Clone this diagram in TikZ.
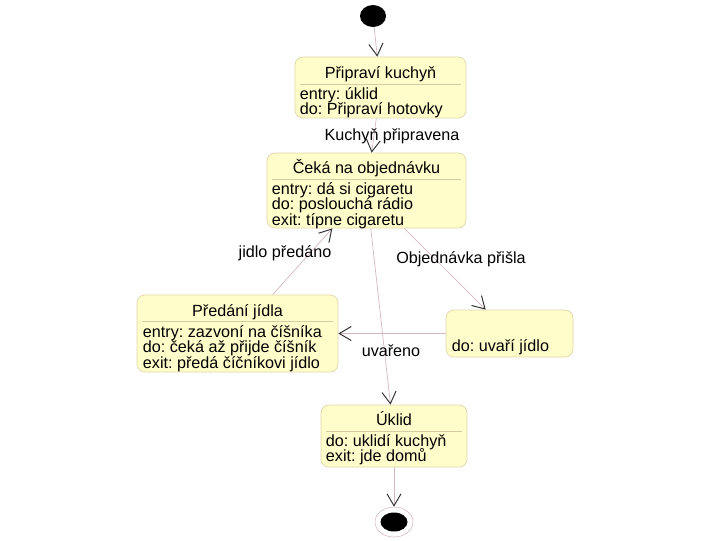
\documentclass[tikz,border=0pt]{standalone}
\usepackage{fontspec}
\setmainfont{Liberation Sans}
\usepackage{xcolor}
\usetikzlibrary{positioning, arrows.meta, calc, shapes.geometric}

\definecolor{stfill}{HTML}{FFFDCA}
\definecolor{stdraw}{HTML}{E2D6A8}
\definecolor{sepline}{HTML}{D6CBA2}
\definecolor{trline}{HTML}{D4B8C0}

\begin{document}
\frenchspacing
\begin{tikzpicture}[
  x=0.025cm, y=-0.025cm,
  font=\fontsize{11.5}{13}\selectfont,
  st/.style={draw=stdraw, fill=stfill, rounded corners=5.5pt,
             line width=0.5pt, inner sep=0pt},
  ttl/.style={anchor=base, inner sep=0pt},
  body/.style={anchor=base west, inner sep=0pt},
  sepl/.style={draw=sepline, line width=0.4pt},
  tr/.style={draw=trline, line width=0.5pt,
             -{Straight Barb[length=8.5pt, width=10pt, color=black!80, line width=0.7pt]}},
  lab/.style={inner sep=1pt},
  dot/.style={ellipse, fill=black, inner sep=0pt},
]
%% one unit is one pixel of the 720 x 540 page
\def\PX{0.025cm}
\useasboundingbox (0,0) rectangle (720,540);

%% ---- initial and final pseudo states ----
\node[dot, minimum width=26*\PX, minimum height=22*\PX] (init) at (373,16) {};
\node[ellipse, draw=trline, fill=white, inner sep=0pt,
      minimum width=38*\PX, minimum height=30*\PX] (fin) at (394,522) {};
\node[dot, minimum width=27*\PX, minimum height=19*\PX] (fin-in) at (394,522) {};

%% ---- Připraví kuchyň ----
\node[st, minimum width=171*\PX, minimum height=61*\PX] (prip) at (380.5,87.5) {};
\node[ttl] (prip-t) at ($(prip.north)+(0,22)$) {Připraví kuchyň};
\draw[sepl] ($(prip.north west)+(5,28)$) -- ($(prip.north east)+(-5,28)$);
\foreach \txt [count=\i] in {entry: úklid, do: Připraví hotovky}
  \node[body] (prip-\i) at ($(prip.north west)+(5,27+15.5*\i)$) {\txt};

%% ---- Čeká na objednávku ----
\node[st, minimum width=199*\PX, minimum height=75*\PX] (ceka) at (366.5,190.5) {};
\node[ttl] (ceka-t) at ($(ceka.north)+(0,21)$) {Čeká na objednávku};
\draw[sepl] ($(ceka.north west)+(5,27)$) -- ($(ceka.north east)+(-5,27)$);
\foreach \txt [count=\i] in {entry: dá si cigaretu, do: poslouchá rádio, exit: típne cigaretu}
  \node[body] (ceka-\i) at ($(ceka.north west)+(5,26+15.5*\i)$) {\txt};

%% ---- Předání jídla ----
\node[st, minimum width=201*\PX, minimum height=77*\PX] (predani) at (237.5,333.5) {};
\node[ttl] (predani-t) at ($(predani.north)+(0,22)$) {Předání jídla};
\draw[sepl] ($(predani.north west)+(5,27)$) -- ($(predani.north east)+(-5,27)$);
\foreach \txt [count=\i] in {entry: zazvoní na číšníka, do: čeká až přijde číšník, exit: předá číčníkovi jídlo}
  \node[body] (predani-\i) at ($(predani.north west)+(6,27+15.5*\i)$) {\txt};

%% ---- uvaří jídlo (no name) ----
\node[st, minimum width=127*\PX, minimum height=47*\PX] (uvari) at (509.5,333.5) {};
\node[body] (uvari-1) at ($(uvari.north west)+(6,42)$) {do: uvaří jídlo};

%% ---- Úklid ----
\node[st, minimum width=146*\PX, minimum height=62*\PX] (uklid) at (394,436) {};
\node[ttl] (uklid-t) at ($(uklid.north)+(0,21)$) {Úklid};
\draw[sepl] ($(uklid.north west)+(5,27)$) -- ($(uklid.north east)+(-5,27)$);
\foreach \txt [count=\i] in {do: uklidí kuchyň, exit: jde domů}
  \node[body] (uklid-\i) at ($(uklid.north west)+(5,26+15.5*\i)$) {\txt};

%% ---- transitions ----
\draw[tr] (init) -- (prip);
\draw[tr] (prip) -- (ceka);
\draw[tr] (ceka) -- (uvari);
\draw[tr] (uvari) -- (predani);
\draw[tr] (predani) -- (ceka);
\draw[tr] (ceka) -- (uklid);
\draw[tr] (uklid) -- (fin);

%% ---- transition labels ----
\node[lab] (kp-lab) at (392,136) {Kuchyň připravena};
\node[lab] (jp-lab) at (285,253) {jidlo předáno};
\node[lab] (op-lab) at (461,259) {Objednávka přišla};
\node[lab] (uv-lab) at (391,351) {uvařeno};
\end{tikzpicture}
\end{document}
